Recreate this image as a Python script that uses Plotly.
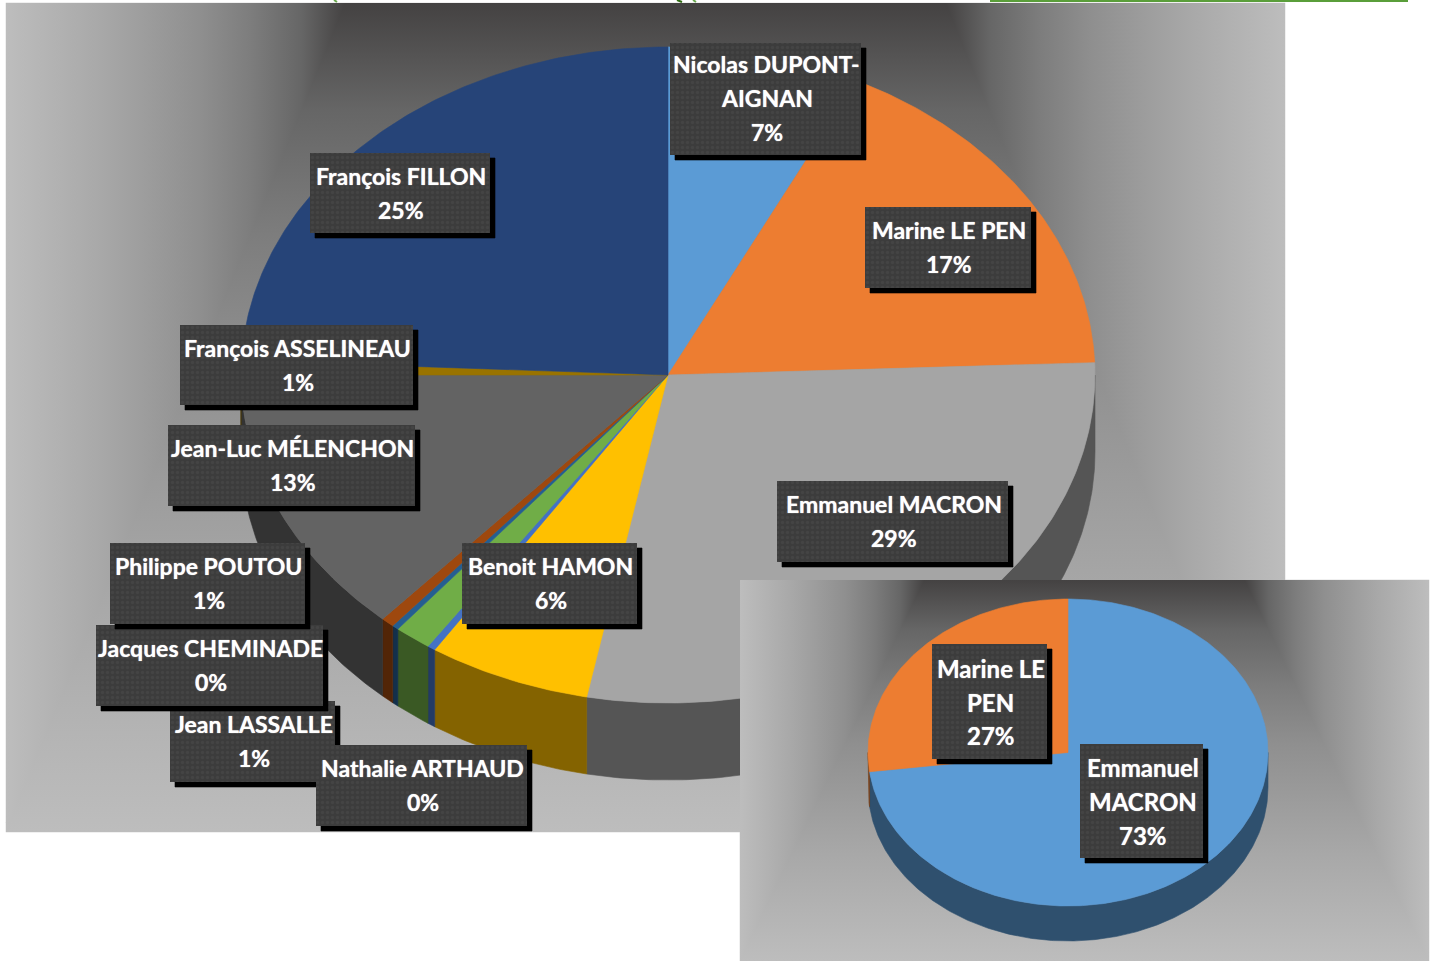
import numpy as np
import plotly.graph_objects as go

# ---------- data (share of the pie, clockwise from 12 o'clock) ----------
candidates = ["Nicolas DUPONT-AIGNAN", "Marine LE PEN", "Emmanuel MACRON", "Benoit HAMON",
              "Nathalie ARTHAUD", "Philippe POUTOU", "Jacques CHEMINADE", "Jean LASSALLE",
              "Jean-Luc MÉLENCHON", "François ASSELINEAU", "François FILLON"]
round1_values = [7.3, 17.1, 28.65, 6.15, 0.3, 1.4, 0.25, 0.5, 13.35, 0.7, 24.3]
round1_labels = ["7%", "17%", "29%", "6%", "0%", "1%", "0%", "1%", "13%", "1%", "25%"]
round1_colors = ["#5B9BD5", "#ED7D31", "#A5A5A5", "#FFC000", "#4472C4", "#70AD47",
                 "#255E91", "#9E480E", "#636363", "#997300", "#264478"]

finalists = ["Emmanuel MACRON", "Marine LE PEN"]
round2_values = [73, 27]
round2_labels = ["73%", "27%"]
round2_colors = ["#5B9BD5", "#ED7D31"]

GRAD = [[0, "#bdbdbd"], [0.28, "#a8a8a8"], [0.57, "#8f8f8f"], [0.72, "#7d7d7d"], [0.87, "#666666"], [1, "#444242"]]
BOX, DOT, SHADOW = "#3c3c3c", "#4c4c4c", "#000000"

fig = go.Figure()


def poly(xs, ys, color=None, **kw):
    args = dict(x=list(xs), y=list(ys), mode="lines", fill="toself", hoverinfo="skip",
                showlegend=False, line=dict(width=0.6, color=color or "rgba(0,0,0,0)"))
    if color:
        args["fillcolor"] = color
    args.update(kw)
    fig.add_trace(go.Scatter(**args))


def panel(x0, y0, x1, y1, band):
    """Office-style path gradient: two side triangles and a central trapezoid."""
    cx = (x0 + x1) / 2
    lx, rx = cx - band, cx + band
    left = dict(type="horizontal", colorscale=GRAD, start=x0, stop=lx)
    right = dict(type="horizontal", colorscale=[[1 - s, c] for s, c in GRAD][::-1], start=rx, stop=x1)
    mid = dict(type="vertical", colorscale=GRAD, start=y1, stop=y0)
    over = 4  # the trapezoid slips under the triangles so that no seam shows
    drop = over * (y1 - y0) / (lx - x0)
    poly([lx - over, rx + over, x1, x1, x0, x0, lx - over],
         [y0, y0, y1 - drop, y1, y1, y1 - drop, y0], fillgradient=mid)
    poly([x0, lx, x0, x0], [y0, y0, y1, y0], fillgradient=left)
    poly([rx, x1, x1, rx], [y0, y0, y1, y0], fillgradient=right)
    fig.add_shape(type="rect", x0=x0 + 0.5, y0=y0 + 0.5, x1=x1 - 0.5, y1=y1 - 0.5,
                  line=dict(color="#c4c4c4", width=1.5), layer="between")


def darker(hexcolor, k=0.52):
    r, g, b = (int(hexcolor[i:i + 2], 16) for i in (1, 3, 5))
    return "#%02x%02x%02x" % (int(r * k), int(g * k), int(b * k))


def pie3d(values, colors, cx, cy, rx, ry, depth):
    edges = np.concatenate([[0], np.cumsum(values)]) / np.sum(values) * 2 * np.pi
    # side wall, front half only
    for a, b, c in zip(edges[:-1], edges[1:], colors):
        lo, hi = max(a, np.pi / 2), min(b, 3 * np.pi / 2)
        if hi <= lo:
            continue
        t = np.linspace(lo, hi, max(3, int((hi - lo) * 90)))
        ax, ay = cx + rx * np.sin(t), cy - ry * np.cos(t)
        poly(np.r_[ax, ax[::-1], ax[0]], np.r_[ay, ay[::-1] + depth, ay[0]], darker(c))
    # top face
    for a, b, c in zip(edges[:-1], edges[1:], colors):
        t = np.linspace(a, b, max(3, int((b - a) * 90)))
        poly(np.r_[cx, cx + rx * np.sin(t), cx], np.r_[cy, cy - ry * np.cos(t), cy], c)


def label(x0, y0, x1, y1, lines, ys, size=23):
    poly([x0 + 5, x1 + 5, x1 + 5, x0 + 5, x0 + 5], [y0 + 5, y0 + 5, y1 + 5, y1 + 5, y0 + 5], SHADOW)
    poly([x0, x1, x1, x0, x0], [y0, y0, y1, y1, y0],
         fillpattern=dict(shape=".", bgcolor=BOX, fgcolor=DOT, size=5, solidity=0.35))
    for t, y in zip(lines, ys):
        fig.add_annotation(x=(x0 + x1) / 2 + 1, y=y - 1, text=t, showarrow=False, xanchor="center", yanchor="middle",
                           font=dict(family="Lato", size=size, color="white", weight=700,
                                     shadow="0 0 1px rgba(255,255,255,0.85)"))


# ---------- first-round panel ----------
panel(6, 3, 1285, 832, 300)
pie3d(round1_values, round1_colors, 668, 375, 427, 328, 77)

label(670, 43, 861, 155, ["Nicolas DUPONT-", "AIGNAN", round1_labels[0]], [65, 99, 133])
label(310, 153, 490, 233, [candidates[10], round1_labels[10]], [177, 211])
label(865, 207, 1031, 288, [candidates[1], round1_labels[1]], [231, 265])
label(180, 325, 413, 405, [candidates[9], round1_labels[9]], [349, 383])
label(168, 425, 415, 506, [candidates[8], round1_labels[8]], [449, 483])
label(777, 481, 1008, 562, [candidates[2], round1_labels[2]], [505, 539])
label(170, 701, 335, 782, [candidates[7], round1_labels[7]], [725, 759])
label(316, 745, 527, 826, [candidates[4], round1_labels[4]], [769, 803])
label(96, 625, 323, 706, [candidates[6], round1_labels[6]], [649, 683])
label(110, 543, 305, 624, [candidates[5], round1_labels[5]], [567, 601])
label(462, 543, 637, 624, [candidates[3], round1_labels[3]], [567, 601])

# ---------- second-round inset ----------
panel(740, 580, 1429, 961, 160)
pie3d(round2_values, round2_colors, 1068, 752.5, 200, 153.5, 35)
label(932, 644, 1047, 759, ["Marine LE", "PEN", round2_labels[1]], [669, 703, 736], size=24)
label(1080, 744, 1203, 858, ["Emmanuel", "MACRON", round2_labels[0]], [768, 802, 836], size=24)

# ---------- cropped remains of the elements above the chart ----------
fig.add_shape(type="line", x0=990, x1=1408, y0=0.5, y1=0.5, line=dict(color="#5a9e3a", width=3))
for xa, xb, green in [(334, 337, "#6aa84f"), (677, 682, "#2f6b12"), (693, 696, "#6aa84f")]:
    fig.add_shape(type="line", x0=xa, x1=xb, y0=0, y1=2, line=dict(color=green, width=2))

fig.update_layout(width=1434, height=961, margin=dict(l=0, r=0, t=0, b=0), showlegend=False,
                  paper_bgcolor="white", plot_bgcolor="white",
                  xaxis=dict(range=[0, 1434], visible=False, fixedrange=True),
                  yaxis=dict(range=[961, 0], visible=False, fixedrange=True))
fig.write_html("out.html", config=dict(displayModeBar=False),
               post_script="document.body.style.margin='0';document.body.style.overflow='hidden';")
